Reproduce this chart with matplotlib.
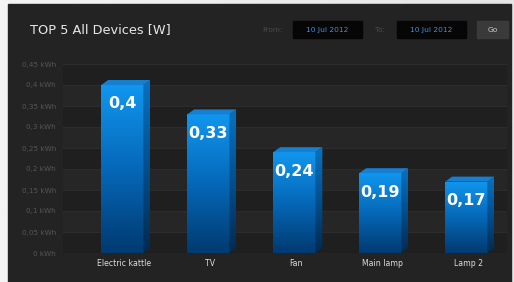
import matplotlib
matplotlib.use("Agg")
import matplotlib.pyplot as plt
import numpy as np
from matplotlib.patches import Rectangle, Polygon
from matplotlib.colors import LinearSegmentedColormap

categories = ["Electric kattle", "TV", "Fan", "Main lamp", "Lamp 2"]
values = [0.4, 0.33, 0.24, 0.19, 0.17]
value_labels = ["0,4", "0,33", "0,24", "0,19", "0,17"]
yticks = [0, 0.05, 0.1, 0.15, 0.2, 0.25, 0.3, 0.35, 0.4, 0.45]
ytick_labels = ["0 kWh", "0,05 kWh", "0,1 kWh", "0,15 kWh", "0,2 kWh",
                "0,25 kWh", "0,3 kWh", "0,35 kWh", "0,4 kWh", "0,45 kWh"]
title = "TOP 5 All Devices [W]"
date_from = "10 Jul 2012"
date_to = "10 Jul 2012"

W, H = 514, 282
fig = plt.figure(figsize=(W / 100, H / 100), dpi=100)

# page background (light gradient)
bg = fig.add_axes([0, 0, 1, 1])
bg.set_axis_off()
grad = np.linspace(0, 1, 256).reshape(1, -1)
bg.imshow(np.tile(grad, (2, 1)), aspect="auto", extent=[0, 1, 0, 1],
          cmap=LinearSegmentedColormap.from_list("pg", ["#f4f4f4", "#e6e6e6"]))
bg.set_xlim(0, 1)
bg.set_ylim(0, 1)

def px(x0, y0, x1, y1):
    return [x0 / W, 1 - y1 / H, (x1 - x0) / W, (y1 - y0) / H]

# dark panel
fig.patches.append(Rectangle((8 / W, 0), (511 - 8) / W, (282 - 4) / H,
                             transform=fig.transFigure, color="#232323", zorder=1))

# header
fig.text(30 / W, 1 - 30 / H, title, color="#e8e8e8", fontsize=9.3,
         va="center", ha="left", zorder=5)
fig.text(262 / W, 1 - 30 / H, "From:", color="#4a4a4a", fontsize=5.2,
         va="center", ha="left", zorder=5)
fig.text(375 / W, 1 - 30 / H, "To:", color="#4a4a4a", fontsize=5.2,
         va="center", ha="left", zorder=5)
for (x0, x1, txt) in [(293, 362, date_from), (397, 466, date_to)]:
    fig.patches.append(Rectangle((x0 / W, 1 - 38 / H), (x1 - x0) / W, 17 / H,
                                 transform=fig.transFigure, color="#060606", zorder=4))
    fig.text((x0 + x1) / 2 / W, 1 - 30 / H, txt, color="#3f8fd8", fontsize=5.4,
             va="center", ha="center", zorder=5)
fig.patches.append(Rectangle((477 / W, 1 - 38 / H), 31 / W, 17 / H,
                             transform=fig.transFigure, color="#3a3a3a", zorder=4))
fig.text(492.5 / W, 1 - 30 / H, "Go", color="#cccccc", fontsize=5.4,
         va="center", ha="center", zorder=5)

# plot area
x_left_px, x_right_px = 63, 507
y_top_px, y_bot_px = 64, 253
ax = fig.add_axes(px(x_left_px, y_top_px, x_right_px, y_bot_px))
ax.set_zorder(3)
ax.patch.set_alpha(0)
xc0, xstep = 124, 86
ax.set_xlim((x_left_px - xc0) / xstep, (x_right_px - xc0) / xstep)
ax.set_ylim(0, 0.45)
for s in ax.spines.values():
    s.set_visible(False)

# bands
for i in range(len(yticks) - 1):
    lo, hi = yticks[i], yticks[i + 1]
    col = "#1f1f1f" if i % 2 == 0 else "#262626"
    ax.axhspan(lo, hi, color=col, zorder=0, lw=0)
for t in yticks:
    ax.axhline(t, color="#2c2c2c", lw=0.8, zorder=1)

ax.set_yticks(yticks)
ax.set_yticklabels(ytick_labels, color="#555555", fontsize=5.2)
ax.set_xticks(range(len(categories)))
ax.set_xticklabels(categories, color="#dddddd", fontsize=5.6)
ax.tick_params(length=0, pad=4)
ax.tick_params(axis="y", pad=5)

front_cmap = LinearSegmentedColormap.from_list("front", ["#003a70", "#0568b8", "#1196ee"])
side_cmap = LinearSegmentedColormap.from_list("side", ["#002a50", "#024f90", "#0872c0"])

bw = 0.49
dx = 7 / xstep
dy = 5 * 0.45 / (y_bot_px - y_top_px)
gy = np.linspace(0, 1, 256).reshape(-1, 1)

for i, v in enumerate(values):
    x0 = i - bw / 2 - 0.02
    x1 = x0 + bw
    # front face
    bars = ax.bar([x0 + bw / 2], [v], width=bw, color="none", lw=0, zorder=4)
    rect = bars.patches[0]
    im = ax.imshow(gy, cmap=front_cmap, origin="lower", aspect="auto",
                   extent=[x0, x1, 0, v], zorder=4)
    im.set_clip_path(rect)
    # side face
    side = Polygon([[x1, 0], [x1 + dx, dy], [x1 + dx, v + dy], [x1, v]],
                   closed=True, facecolor="none", lw=0)
    ax.add_patch(side)
    im2 = ax.imshow(gy, cmap=side_cmap, origin="lower", aspect="auto",
                    extent=[x1, x1 + dx, 0, v + dy], zorder=4)
    im2.set_clip_path(side)
    # top face
    top = Polygon([[x0, v], [x0 + dx, v + dy], [x1 + dx, v + dy], [x1, v]],
                  closed=True, facecolor="#1580d2", lw=0, zorder=5)
    ax.add_patch(top)
    ax.text(x0 + bw / 2, v - 0.045, value_labels[i], color="white",
            fontsize=11.5, fontweight="bold", ha="center", va="center", zorder=6)

ax.set_xlim((x_left_px - xc0) / xstep, (x_right_px - xc0) / xstep)
ax.set_ylim(0, 0.45)

fig.savefig("out.png", dpi=100)
